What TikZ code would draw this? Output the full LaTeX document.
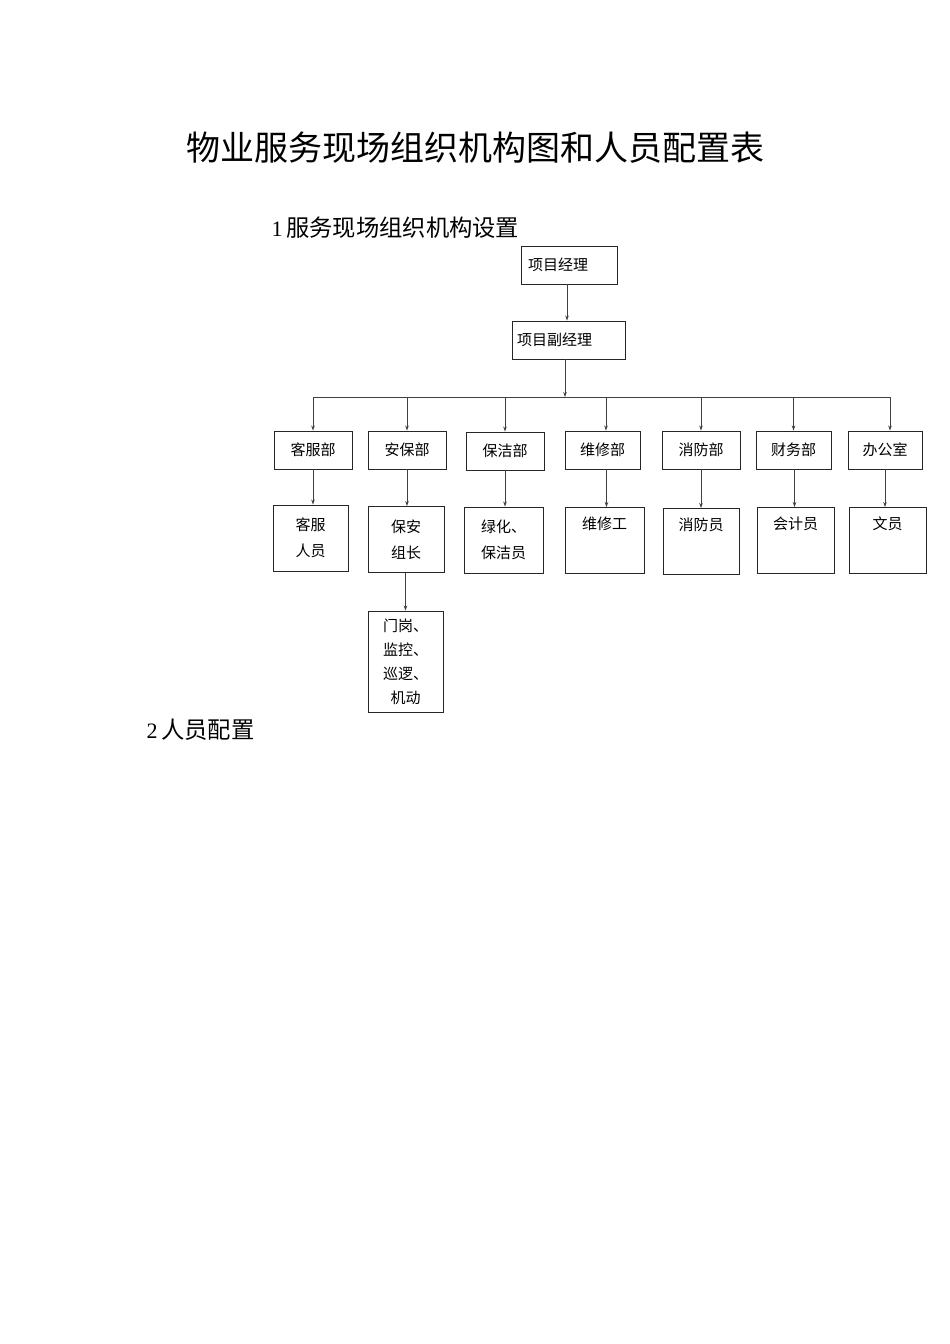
\documentclass[tikz,border=0pt]{standalone}
\usepackage{fontspec}
\setmainfont{Liberation Serif}
\newfontfamily\cjk{Noto Sans CJK SC}
\usetikzlibrary{arrows.meta,calc}
\begin{document}
\begin{tikzpicture}[x=1pt,y=-1pt,
  box/.style={draw=black!85,line width=0.9pt,inner sep=0pt,font=\cjk\fontsize{15}{26}\selectfont,align=center},
  dept/.style={box,minimum height=38},
  staff/.style={box,minimum height=66},
  arr/.style={draw=black!75,line width=0.8pt,-{Stealth[length=5pt,width=3.5pt]}},
  busline/.style={draw=black!75,line width=0.8pt}]
\useasboundingbox[fill=white] (0,0) rectangle (950,1344);
\node[font=\cjk\fontsize{34}{40}\selectfont] (title) at (475,148) {物业服务现场组织机构图和人员配置表};
\node[anchor=west,font=\fontsize{22}{26}\selectfont] (sub1) at (268,228) {1\,{\cjk\fontsize{23.3}{26}\selectfont 服务现场组织机构设置}};
\node[anchor=west,font=\fontsize{22}{26}\selectfont] (sub2) at (143,730) {2\,{\cjk\fontsize{23.3}{26}\selectfont 人员配置}};
% managers
\node[box,minimum width=96,minimum height=38,text width=82,inner xsep=7,align=left] (m1) at (569,265) {项目经理};
\node[box,minimum width=113,minimum height=38,text width=103,inner xsep=5,align=left] (m2) at (568.5,340) {项目副经理};
\coordinate (bus) at (565,397);
% departments
\node[dept,minimum width=78] (d1) at (313,450) {客服部};
\node[dept,minimum width=78] (d2) at (407,450) {安保部};
\node[dept,minimum width=78] (d3) at (505,451) {保洁部};
\node[dept,minimum width=75] (d4) at (602.5,450) {维修部};
\node[dept,minimum width=78] (d5) at (701,450) {消防部};
\node[dept,minimum width=75] (d6) at (793.5,450) {财务部};
\node[dept,minimum width=74] (d7) at (885,450) {办公室};
% staff
\node[staff,minimum width=75] (s1) at (310.5,538) {客服\\人员};
\node[staff,minimum width=76] (s2) at (406,539.5) {保安\\组长};
\node[staff,minimum width=79] (s3) at (503.5,540) {绿化、\\保洁员};
\node[staff,minimum width=79] (s4) at (604.5,540.5) {维修工\\\strut};
\node[staff,minimum width=76] (s5) at (701,541.5) {消防员\\\strut};
\node[staff,minimum width=77] (s6) at (795.5,540.5) {会计员\\\strut};
\node[staff,minimum width=77] (s7) at (887.5,540.5) {文员\\\strut};
\node[box,minimum width=75,minimum height=101,font=\cjk\fontsize{15}{24}\selectfont] (s8) at (405.5,661.5) {门岗、\\监控、\\巡逻、\\机动};
% connectors
\draw[arr] (m1.south -| 567,0) -- (m2.north -| 567,0);
\draw[arr] (m2.south -| bus) -- (bus);
\draw[busline] (d1.north |- bus) -- ($(d7.north |- bus)+(5,0)$);
\draw[arr] (d1.north |- bus) -- (d1.north);
\draw[arr] (d2.north |- bus) -- (d2.north);
\draw[arr] (d3.north |- bus) -- (d3.north);
\draw[arr] ($(d4.north |- bus)+(3.5,0)$) -- ($(d4.north)+(3.5,0)$);
\draw[arr] (d5.north |- bus) -- (d5.north);
\draw[arr] (d6.north |- bus) -- (d6.north);
\draw[arr] ($(d7.north |- bus)+(5,0)$) -- ($(d7.north)+(5,0)$);
\draw[arr] (d1.south) -- (d1.south |- s1.north);
\draw[arr] (d2.south) -- (d2.south |- s2.north);
\draw[arr] (d3.south) -- (d3.south |- s3.north);
\draw[arr] ($(d4.south)+(4,0)$) -- ($(d4.south |- s4.north)+(4,0)$);
\draw[arr] (d5.south) -- (d5.south |- s5.north);
\draw[arr] ($(d6.south)+(1,0)$) -- ($(d6.south |- s6.north)+(1,0)$);
\draw[arr] (d7.south) -- (d7.south |- s7.north);
\draw[arr] (s2.south -| s8.north) -- (s8.north);
\end{tikzpicture}
\end{document}
